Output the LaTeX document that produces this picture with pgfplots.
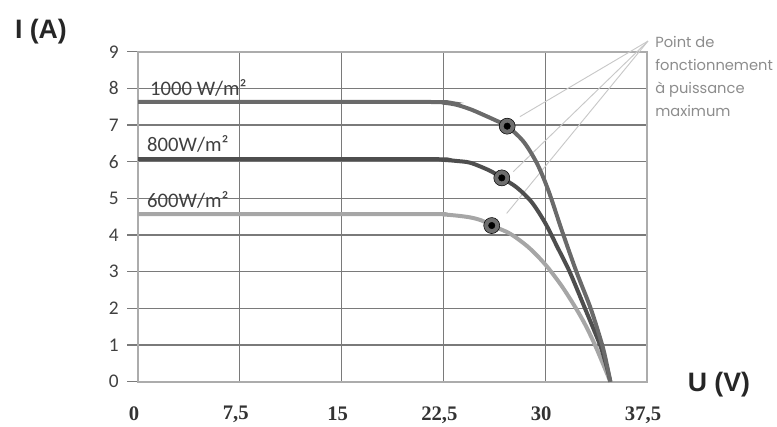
\documentclass[border=0pt]{standalone}
\usepackage{fontspec}
\setmainfont{Carlito}
\newfontfamily\tnr{Liberation Serif}
\newfontfamily\ars{Liberation Sans}
\newfontfamily\popp{Poppins}
\usepackage{pgfplots}
\pgfplotsset{compat=1.18}
\definecolor{gridc}{HTML}{7A7A7A}
\definecolor{cA}{HTML}{6A6A6A}
\definecolor{cB}{HTML}{4E4E4E}
\definecolor{cC}{HTML}{A6A6A6}
\definecolor{halo}{HTML}{6E6E6E}
\definecolor{ann}{HTML}{C8C8C8}
\definecolor{anntext}{HTML}{8C8C8C}
\begin{document}
\begin{tikzpicture}
\path[use as bounding box] (0,0) rectangle (582.75pt,319.5pt);
\begin{axis}[
  at={(103.5pt,33.2pt)}, anchor=south west,
  scale only axis, width=381.75pt, height=247.5pt,
  xmin=0, xmax=37.5, ymin=0, ymax=9,
  xtick={0,7.5,15,22.5,30,37.5},
  xticklabels={0,{7,5},15,{22,5},30,{37,5}},
  ytick={0,1,2,3,4,5,6,7,8,9},
  yticklabels={0,1,2,3,4,5,6,7,8,9},
  xtick pos=bottom, ytick pos=left,
  grid=major,
  major grid style={draw=gridc, line width=0.95pt},
  axis line style={draw=gray!65, line width=1.3pt},
  tick align=outside,
  major tick length=8pt,
  xtick style={draw=none},
  ytick style={draw=gridc, line width=0.95pt},
  xticklabel style={font=\tnr\bfseries\fontsize{15.5}{15.5}\selectfont, text=black!80, yshift=-7pt, xshift=-3pt},
  yticklabel style={font=\fontsize{14.5}{14}\selectfont, text=black!75, xshift=-3pt},
  clip=false,
]
% annotation lines
\addplot[ann, line width=0.7pt, no marks] coordinates {(37.57,9.29) (28.14,7.23)};
\addplot[ann, line width=0.7pt, no marks] coordinates {(37.57,9.29) (27.65,5.73)};
\addplot[ann, line width=0.7pt, no marks] coordinates {(37.57,9.29) (27.16,4.59)};
% 600 W/m2
\addplot[cC, line width=3pt, smooth, no marks] coordinates {
(0,4.57) (21,4.57) (22.5,4.56) (23.5,4.53) (24.5,4.48) (25.3,4.40) (26.06,4.26)
(27.4,4.04) (28.76,3.67) (30,3.20) (31.2,2.62) (32.27,2.0) (33.0,1.52) (33.67,1.0) (34.3,0.45) (34.8,0)};
% 800 W/m2
\addplot[cB, line width=3pt, smooth, no marks] coordinates {
(0,6.07) (21,6.07) (22.5,6.05) (23.5,6.02) (24.5,5.97) (25.9,5.76) (26.8,5.56)
(27.9,5.30) (29,4.90) (30,4.33) (30.9,3.67) (31.8,3.0) (32.93,2.0) (34.04,1.0) (34.5,0.45) (34.8,0)};
% 1000 W/m2
\addplot[cA, line width=3pt, smooth, no marks] coordinates {
(0,7.63) (21,7.63) (22.5,7.61) (23.5,7.55) (24.5,7.43) (25.2,7.32) (26.4,7.12) (27.2,6.97)
(28.4,6.55) (29.4,5.95) (30.25,5.2) (31.25,4.1) (32.3,3.0) (33.35,2.0) (34.2,1.0) (34.55,0.45) (34.8,0)};
% maximum power points
\addplot[only marks, mark=*, mark size=6pt, mark options={fill=halo, draw=none}] coordinates {(27.2,6.97) (26.8,5.56) (26.06,4.26)};
\addplot[only marks, mark=*, mark size=2.4pt, mark options={fill=black, draw=none}] coordinates {(27.2,6.97) (26.8,5.56) (26.06,4.26)};
% labels
\node[anchor=west, inner sep=0, font=\fontsize{15.5}{15.5}\selectfont, text=black!75] at (axis cs:0.88,8.01) {1000 W/m²};
\node[anchor=west, inner sep=0, font=\fontsize{15.5}{15.5}\selectfont, text=black!75] at (axis cs:0.66,6.48) {800W/m²};
\node[anchor=west, inner sep=0, font=\fontsize{15.5}{15.5}\selectfont, text=black!75] at (axis cs:0.66,4.96) {600W/m²};
\node[font=\ars\bfseries\fontsize{20}{20}\selectfont, text=black!85] at (axis cs:-7.15,9.54) {I (A)};
\node[font=\ars\bfseries\fontsize{20}{20}\selectfont, text=black!85] at (axis cs:42.8,-0.09) {U (V)};
\node[anchor=north west, inner sep=0, align=left, font=\popp\fontsize{11}{17.3}\selectfont, text=anntext] at (axis cs:38.09,9.42) {Point de\\fonctionnement\\à puissance\\maximum};
\end{axis}
\end{tikzpicture}
\end{document}
